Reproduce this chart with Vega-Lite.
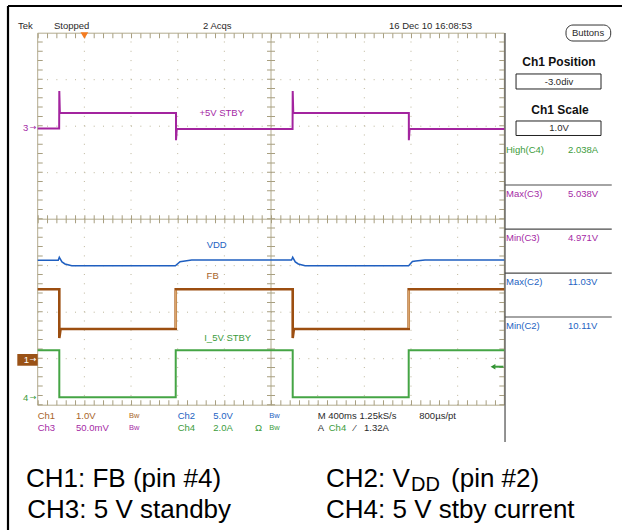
{
  "$schema": "https://vega.github.io/schema/vega-lite/v6.json",
  "width": 622,
  "height": 530,
  "autosize": {"type": "none"},
  "padding": 0,
  "background": "white",
  "config": {"view": {"stroke": null}},
  "datasets": {
    "gridV": [
      {"x": 1, "x2": 1, "y": -4, "y2": 4}, {"x": 2, "x2": 2, "y": -4, "y2": 4},
      {"x": 3, "x2": 3, "y": -4, "y2": 4}, {"x": 4, "x2": 4, "y": -4, "y2": 4},
      {"x": 6, "x2": 6, "y": -4, "y2": 4}, {"x": 7, "x2": 7, "y": -4, "y2": 4},
      {"x": 8, "x2": 8, "y": -4, "y2": 4}, {"x": 9, "x2": 9, "y": -4, "y2": 4}
    ],
    "gridH": [
      {"x": 0, "x2": 10, "y": -3, "y2": -3}, {"x": 0, "x2": 10, "y": -2, "y2": -2},
      {"x": 0, "x2": 10, "y": -1, "y2": -1}, {"x": 0, "x2": 10, "y": 1, "y2": 1},
      {"x": 0, "x2": 10, "y": 2, "y2": 2}, {"x": 0, "x2": 10, "y": 3, "y2": 3}
    ],
    "frame": [
      {"x": 0, "x2": 10, "y": 4, "y2": 4}, {"x": 0, "x2": 10, "y": -4, "y2": -4},
      {"x": 0, "x2": 0, "y": -4, "y2": 4}, {"x": 10, "x2": 10, "y": -4, "y2": 4},
      {"x": 0, "x2": 10, "y": 0, "y2": 0}, {"x": 5, "x2": 5, "y": -4, "y2": 4}
    ],
    "ticksHB": [
      {"x": 0, "x2": 10, "y": 3.946, "y2": 3.946}, {"x": 0, "x2": 10, "y": -3.946, "y2": -3.946}
    ],
    "ticksHC": [{"x": 0, "x2": 10, "y": 0, "y2": 0}],
    "ticksVB": [
      {"x": 0.0536, "x2": 0.0536, "y": -4, "y2": 4}, {"x": 9.946, "x2": 9.946, "y": -4, "y2": 4}
    ],
    "ticksVC": [{"x": 5, "x2": 5, "y": -4, "y2": 4}],
    "panel": [
      {"x": 10.015, "x2": 10.015, "y": 4.004, "y2": -4.791},
      {"x": 10.015, "x2": 12.302, "y": 0.7355, "y2": 0.7355},
      {"x": 10.015, "x2": 12.302, "y": -0.2129, "y2": -0.2129},
      {"x": 10.015, "x2": 12.302, "y": -1.1591, "y2": -1.1591},
      {"x": 10.015, "x2": 12.302, "y": -2.1032, "y2": -2.1032}
    ],
    "border": [
      {"x": -0.6365, "x2": 12.522, "y": 4.585, "y2": 4.585},
      {"x": -0.6365, "x2": -0.6365, "y": 4.585, "y2": -6.684}
    ],
    "boxes": [
      {"x": 10.251, "x2": 12.072, "y": 3.123, "y2": 2.8},
      {"x": 10.251, "x2": 12.072, "y": 2.112, "y2": 1.8}
    ],
    "buttons": [{"x": 11.322, "x2": 12.28, "y": 4.176, "y2": 3.832}],
    "box1": [{"x": -0.437, "x2": 0, "y": -2.899, "y2": -3.151}],
    "ch3": [
      {"x": 0, "y": 1.95}, {"x": 0.46, "y": 1.95}, {"x": 0.463, "y": 2.757}, {"x": 0.475, "y": 2.29},
      {"x": 0.5, "y": 2.284}, {"x": 2.964, "y": 2.284}, {"x": 2.964, "y": 1.7}, {"x": 2.98, "y": 1.94},
      {"x": 5.462, "y": 1.94}, {"x": 5.465, "y": 2.757}, {"x": 5.477, "y": 2.29}, {"x": 5.5, "y": 2.284},
      {"x": 7.954, "y": 2.284}, {"x": 7.954, "y": 1.7}, {"x": 7.97, "y": 1.94}, {"x": 10, "y": 1.94}
    ],
    "ch2": [
      {"x": 0, "y": -0.884}, {"x": 0.44, "y": -0.884}, {"x": 0.463, "y": -0.819}, {"x": 0.52, "y": -0.92},
      {"x": 0.585, "y": -0.963}, {"x": 0.73, "y": -1.0}, {"x": 2.95, "y": -1.0}, {"x": 3.05, "y": -0.914},
      {"x": 3.12, "y": -0.905}, {"x": 3.3, "y": -0.88}, {"x": 5.44, "y": -0.88}, {"x": 5.465, "y": -0.819},
      {"x": 5.52, "y": -0.92}, {"x": 5.585, "y": -0.963}, {"x": 5.73, "y": -1.0}, {"x": 7.95, "y": -1.0},
      {"x": 8.03, "y": -0.91}, {"x": 8.1, "y": -0.9}, {"x": 8.3, "y": -0.88}, {"x": 10, "y": -0.88}
    ],
    "ch1": [
      {"x": 0, "y": -1.508}, {"x": 0.463, "y": -1.508}, {"x": 0.463, "y": -2.555}, {"x": 0.49, "y": -2.361},
      {"x": 2.958, "y": -2.361}, {"x": 2.958, "y": -1.508}, {"x": 5.465, "y": -1.508}, {"x": 5.465, "y": -2.555},
      {"x": 5.49, "y": -2.361}, {"x": 7.951, "y": -2.361}, {"x": 7.951, "y": -1.508}, {"x": 10, "y": -1.508}
    ],
    "ch1edges": [
      {"x": 2.958, "x2": 2.958, "y": -2.34, "y2": -1.53},
      {"x": 7.951, "x2": 7.951, "y": -2.34, "y2": -1.53}
    ],
    "ch4": [
      {"x": 0, "y": -2.819}, {"x": 0.463, "y": -2.819}, {"x": 0.463, "y": -3.83}, {"x": 2.958, "y": -3.83},
      {"x": 2.958, "y": -2.819}, {"x": 5.465, "y": -2.819}, {"x": 5.465, "y": -3.83}, {"x": 7.951, "y": -3.83},
      {"x": 7.951, "y": -2.819}, {"x": 10, "y": -2.819}
    ],
    "trig": [{"x": 1.0, "y": 3.951}],
    "trig4": [{"x": 9.758, "y": -3.172}],
    "trig4line": [{"x": 9.779, "x2": 9.982, "y": -3.172, "y2": -3.172}],
    "tekL": [
      {"x": -0.422, "y": 4.155, "t": "Tek", "c": "ink"},
      {"x": 0.349, "y": 4.155, "t": "Stopped", "c": "ink"},
      {"x": 3.543, "y": 4.155, "t": "2 Acqs", "c": "ink"},
      {"x": 7.529, "y": 4.155, "t": "16 Dec 10 16:08:53", "c": "ink"},
      {"x": 10.036, "y": 1.488, "t": "High(C4)", "c": "ch4"},
      {"x": 11.365, "y": 1.488, "t": "2.038A", "c": "ch4"},
      {"x": 10.036, "y": 0.542, "t": "Max(C3)", "c": "ch3"},
      {"x": 11.365, "y": 0.542, "t": "5.038V", "c": "ch3"},
      {"x": 10.036, "y": -0.398, "t": "Min(C3)", "c": "ch3"},
      {"x": 11.365, "y": -0.398, "t": "4.971V", "c": "ch3"},
      {"x": 10.036, "y": -1.344, "t": "Max(C2)", "c": "ch2"},
      {"x": 11.365, "y": -1.344, "t": "11.03V", "c": "ch2"},
      {"x": 10.036, "y": -2.297, "t": "Min(C2)", "c": "ch2"},
      {"x": 11.365, "y": -2.297, "t": "10.11V", "c": "ch2"},
      {"x": 0, "y": -4.239, "t": "Ch1", "c": "ch1"},
      {"x": 0.821, "y": -4.239, "t": "1.0V", "c": "ch1"},
      {"x": 3.0, "y": -4.239, "t": "Ch2", "c": "ch2"},
      {"x": 3.763, "y": -4.239, "t": "5.0V", "c": "ch2"},
      {"x": 6.001, "y": -4.239, "t": "M 400ms 1.25kS/s", "c": "ink"},
      {"x": 8.178, "y": -4.239, "t": "800µs/pt", "c": "ink"},
      {"x": 0, "y": -4.484, "t": "Ch3", "c": "ch3"},
      {"x": 0.821, "y": -4.484, "t": "50.0mV", "c": "ch3"},
      {"x": 3.0, "y": -4.484, "t": "Ch4", "c": "ch4"},
      {"x": 3.763, "y": -4.484, "t": "2.0A", "c": "ch4"},
      {"x": 4.657, "y": -4.484, "t": "Ω", "c": "ch4"},
      {"x": 6.001, "y": -4.484, "t": "A", "c": "ink"},
      {"x": 6.237, "y": -4.484, "t": "Ch4", "c": "ch4"},
      {"x": 6.779, "y": -4.484, "t": "⁄", "c": "ink"},
      {"x": 6.993, "y": -4.484, "t": "1.32A", "c": "ink"},
      {"x": -0.315, "y": 1.961, "t": "3", "c": "ch3"},
      {"x": -0.315, "y": -3.845, "t": "4", "c": "ch4"},
      {"x": -0.3, "y": -3.028, "t": "1", "c": "white"}
    ],
    "arrows": [
      {"x": -0.1, "y": 1.961, "t": "→", "c": "ch3"},
      {"x": -0.1, "y": -3.845, "t": "→", "c": "ch4"},
      {"x": -0.1, "y": -3.028, "t": "→", "c": "white"}
    ],
    "tekC": [
      {"x": 3.943, "y": 2.277, "t": "+5V STBY", "c": "ch3"},
      {"x": 3.836, "y": -0.555, "t": "VDD", "c": "ch2"},
      {"x": 3.75, "y": -1.222, "t": "FB", "c": "ch1"},
      {"x": 4.072, "y": -2.548, "t": "I_5V STBY", "c": "ch4"},
      {"x": 11.172, "y": 2.961, "t": "-3.0div", "c": "ink"},
      {"x": 11.172, "y": 1.955, "t": "1.0V", "c": "ink"},
      {"x": 11.794, "y": 4.004, "t": "Buttons", "c": "ink"}
    ],
    "bold": [
      {"x": 11.172, "y": 3.391, "t": "Ch1 Position"},
      {"x": 11.194, "y": 2.344, "t": "Ch1 Scale"}
    ],
    "bw": [
      {"x": 1.957, "y": -4.239, "t": "Bw", "c": "ch1"},
      {"x": 4.964, "y": -4.239, "t": "Bw", "c": "ch2"},
      {"x": 1.957, "y": -4.484, "t": "Bw", "c": "ch3"},
      {"x": 4.964, "y": -4.484, "t": "Bw", "c": "ch4"}
    ],
    "caption": [
      {"x": -0.251, "y": -5.753, "t": "CH1: FB (pin #4)"},
      {"x": -0.223, "y": -6.432, "t": "CH3: 5 V standby"},
      {"x": 6.179, "y": -5.753, "t": "CH2: V"},
      {"x": 8.858, "y": -5.753, "t": "(pin #2)"},
      {"x": 6.179, "y": -6.432, "t": "CH4: 5 V stby current"}
    ],
    "sub": [{"x": 8.0, "y": -5.856, "t": "DD"}]
  },
  "encoding": {
    "x": {"field": "x", "type": "quantitative", "scale": {"domain": [-0.808, 12.522], "nice": false, "zero": false}, "axis": null},
    "y": {"field": "y", "type": "quantitative", "scale": {"domain": [-6.684, 4.714], "nice": false, "zero": false}, "axis": null}
  },
  "layer": [
    {"data": {"name": "gridV"}, "mark": {"type": "rule", "color": "#bcb59a", "strokeWidth": 1, "strokeDash": [1, 8.3]}, "encoding": {"x2": {"field": "x2"}, "y2": {"field": "y2"}}},
    {"data": {"name": "gridH"}, "mark": {"type": "rule", "color": "#bcb59a", "strokeWidth": 1, "strokeDash": [1, 8.332]}, "encoding": {"x2": {"field": "x2"}, "y2": {"field": "y2"}}},
    {"data": {"name": "frame"}, "mark": {"type": "rule", "color": "#b3ab8e", "strokeWidth": 1}, "encoding": {"x2": {"field": "x2"}, "y2": {"field": "y2"}}},
    {"data": {"name": "ticksHB"}, "mark": {"type": "rule", "color": "#a89f80", "strokeWidth": 5, "strokeDash": [1, 8.332]}, "encoding": {"x2": {"field": "x2"}, "y2": {"field": "y2"}}},
    {"data": {"name": "ticksHC"}, "mark": {"type": "rule", "color": "#a89f80", "strokeWidth": 8, "strokeDash": [1, 8.332]}, "encoding": {"x2": {"field": "x2"}, "y2": {"field": "y2"}}},
    {"data": {"name": "ticksVB"}, "mark": {"type": "rule", "color": "#a89f80", "strokeWidth": 5, "strokeDash": [1, 8.3]}, "encoding": {"x2": {"field": "x2"}, "y2": {"field": "y2"}}},
    {"data": {"name": "ticksVC"}, "mark": {"type": "rule", "color": "#a89f80", "strokeWidth": 8, "strokeDash": [1, 8.3]}, "encoding": {"x2": {"field": "x2"}, "y2": {"field": "y2"}}},
    {"data": {"name": "panel"}, "mark": {"type": "rule", "color": "#4a4a4a", "strokeWidth": 1.2}, "encoding": {"x2": {"field": "x2"}, "y2": {"field": "y2"}}},
    {"data": {"name": "border"}, "mark": {"type": "rule", "color": "#000000", "strokeWidth": 2.2}, "encoding": {"x2": {"field": "x2"}, "y2": {"field": "y2"}}},
    {"data": {"name": "boxes"}, "mark": {"type": "rect", "fill": "#ffffff", "stroke": "#222222", "strokeWidth": 1}, "encoding": {"x2": {"field": "x2"}, "y2": {"field": "y2"}}},
    {"data": {"name": "buttons"}, "mark": {"type": "rect", "fill": "#ffffff", "stroke": "#333333", "strokeWidth": 1, "cornerRadius": 7}, "encoding": {"x2": {"field": "x2"}, "y2": {"field": "y2"}}},
    {"data": {"name": "box1"}, "mark": {"type": "rect", "fill": "#9a5216"}, "encoding": {"x2": {"field": "x2"}, "y2": {"field": "y2"}}},
    {"data": {"name": "ch3"}, "mark": {"type": "line", "color": "#a3249f", "strokeWidth": 2, "strokeJoin": "miter"}, "encoding": {"order": {"value": null}}},
    {"data": {"name": "ch2"}, "mark": {"type": "line", "color": "#1f5fc0", "strokeWidth": 1.5, "strokeJoin": "miter"}, "encoding": {"order": {"value": null}}},
    {"data": {"name": "ch1"}, "mark": {"type": "line", "color": "#9c4e10", "strokeWidth": 2.6, "strokeJoin": "miter"}, "encoding": {"order": {"value": null}}},
    {"data": {"name": "ch1edges"}, "mark": {"type": "rule", "color": "#d9a46c", "strokeWidth": 2}, "encoding": {"x2": {"field": "x2"}, "y2": {"field": "y2"}}},
    {"data": {"name": "ch4"}, "mark": {"type": "line", "color": "#45a545", "strokeWidth": 2, "strokeJoin": "miter"}, "encoding": {"order": {"value": null}}},
    {"data": {"name": "trig"}, "mark": {"type": "point", "shape": "triangle-down", "filled": true, "size": 60, "color": "#f47b20", "opacity": 1}},
    {"data": {"name": "trig4"}, "mark": {"type": "point", "shape": "triangle-left", "filled": true, "size": 30, "color": "#2e8f2e", "opacity": 1}},
    {"data": {"name": "trig4line"}, "mark": {"type": "rule", "color": "#3c9c3c", "strokeWidth": 2}, "encoding": {"x2": {"field": "x2"}, "y2": {"field": "y2"}}},
    {"data": {"name": "tekL"}, "mark": {"type": "text", "font": "Liberation Sans", "fontSize": 9.5, "align": "left", "baseline": "middle"},
      "encoding": {"text": {"field": "t"}, "color": {"field": "c", "type": "nominal", "legend": null, "scale": {"domain": ["ink", "ch1", "ch2", "ch3", "ch4", "white"], "range": ["#2a2a2a", "#a8652a", "#2463c2", "#a52aa5", "#3c9c3c", "#ffffff"]}}}},
    {"data": {"name": "arrows"}, "mark": {"type": "text", "font": "DejaVu Sans", "fontSize": 8, "align": "center", "baseline": "middle"},
      "encoding": {"text": {"field": "t"}, "color": {"field": "c", "type": "nominal", "legend": null, "scale": {"domain": ["ink", "ch1", "ch2", "ch3", "ch4", "white"], "range": ["#2a2a2a", "#a8652a", "#2463c2", "#a52aa5", "#3c9c3c", "#ffffff"]}}}},
    {"data": {"name": "tekC"}, "mark": {"type": "text", "font": "Liberation Sans", "fontSize": 9.5, "align": "center", "baseline": "middle"},
      "encoding": {"text": {"field": "t"}, "color": {"field": "c", "type": "nominal", "legend": null, "scale": {"domain": ["ink", "ch1", "ch2", "ch3", "ch4", "white"], "range": ["#2a2a2a", "#a8652a", "#2463c2", "#a52aa5", "#3c9c3c", "#ffffff"]}}}},
    {"data": {"name": "bw"}, "mark": {"type": "text", "font": "Liberation Sans", "fontSize": 7.5, "align": "left", "baseline": "middle"},
      "encoding": {"text": {"field": "t"}, "color": {"field": "c", "type": "nominal", "legend": null, "scale": {"domain": ["ink", "ch1", "ch2", "ch3", "ch4", "white"], "range": ["#2a2a2a", "#a8652a", "#2463c2", "#a52aa5", "#3c9c3c", "#ffffff"]}}}},
    {"data": {"name": "bold"}, "mark": {"type": "text", "font": "Liberation Sans", "fontSize": 12, "fontWeight": "bold", "align": "center", "baseline": "middle", "color": "#111111"}, "encoding": {"text": {"field": "t"}}},
    {"data": {"name": "caption"}, "mark": {"type": "text", "font": "Liberation Sans", "fontSize": 26, "align": "left", "baseline": "alphabetic", "color": "#000000"}, "encoding": {"text": {"field": "t"}}},
    {"data": {"name": "sub"}, "mark": {"type": "text", "font": "Liberation Sans", "fontSize": 20, "align": "left", "baseline": "alphabetic", "color": "#000000"}, "encoding": {"text": {"field": "t"}}}
  ]
}
